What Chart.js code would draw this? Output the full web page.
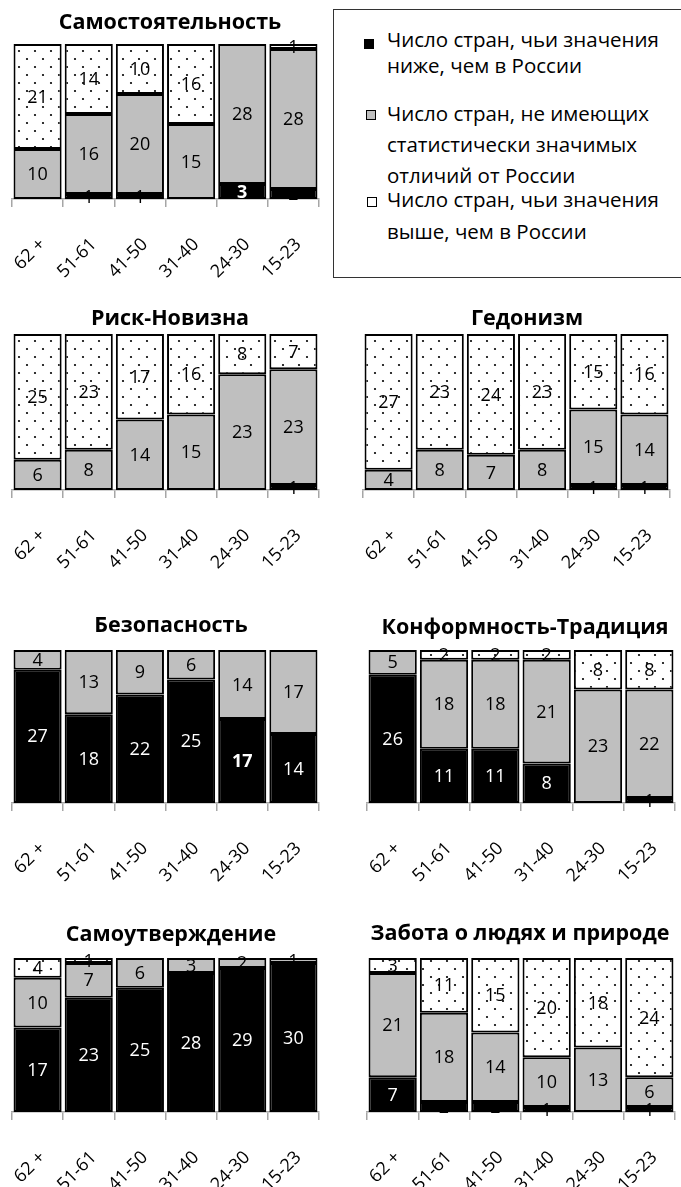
<!DOCTYPE html>
<html lang="ru">
<head>
<meta charset="utf-8">
<title>Число стран по возрастным группам</title>
<script src="https://cdn.jsdelivr.net/npm/chart.js@4.4.0/dist/chart.umd.min.js"></script>
<style>
  html, body { margin: 0; padding: 0; background: #fff; }
  body { width: 681px; height: 1187px; position: relative; overflow: hidden; font-family: 'Open Sans', sans-serif; }
  canvas { position: absolute; }
  #legend { position: absolute; left: 333px; top: 9px; width: 370px; height: 269px;
            border: 1.5px solid #333; box-sizing: border-box; }
  .lg-line { position: absolute; left: 387px; font-size: 20.5px; line-height: normal; white-space: nowrap; color: #000; }
  .lg-mark { position: absolute; box-sizing: border-box; }
</style>
</head>
<body>

<div id="legend"></div>
<div class="lg-mark" style="left:364px;top:39px;width:10px;height:10px;background:#000;"></div>
<div class="lg-line" style="top:25px;">Число стран, чьи значения</div>
<div class="lg-line" style="top:51px;">ниже, чем в России</div>
<div class="lg-mark" style="left:366px;top:110px;width:10px;height:10px;background:#bfbfbf;border:1px solid #000;"></div>
<div class="lg-line" style="top:99px;">Число стран, не имеющих</div>
<div class="lg-line" style="top:130px;">статистически значимых</div>
<div class="lg-line" style="top:161px;">отличий от России</div>
<div class="lg-mark" style="left:367px;top:197px;width:10px;height:10px;background:#fff;border:1px solid #000;"></div>
<div class="lg-line" style="top:185px;">Число стран, чьи значения</div>
<div class="lg-line" style="top:217px;">выше, чем в России</div>

<canvas id="p1"></canvas>
<canvas id="p2"></canvas>
<canvas id="p3"></canvas>
<canvas id="p4"></canvas>
<canvas id="p5"></canvas>
<canvas id="p6"></canvas>
<canvas id="p7"></canvas>

<script>
// age groups, oldest first
const ageGroups = ['62 +', '51-61', '41-50', '31-40', '24-30', '15-23'];
const seriesNames = ['Число стран, чьи значения ниже, чем в России',
                     'Число стран, не имеющих статистически значимых отличий от России',
                     'Число стран, чьи значения выше, чем в России'];
const countryTotal = 31;

// Самостоятельность
const selfDirLower  = [0, 1, 1, 0, 3, 2];
const selfDirSame   = [10, 16, 20, 15, 28, 28];
const selfDirHigher = [21, 14, 10, 16, 0, 1];

// Риск-Новизна
const riskLower  = [0, 0, 0, 0, 0, 1];
const riskSame   = [6, 8, 14, 15, 23, 23];
const riskHigher = [25, 23, 17, 16, 8, 7];

// Гедонизм
const hedonLower  = [0, 0, 0, 0, 1, 1];
const hedonSame   = [4, 8, 7, 8, 15, 14];
const hedonHigher = [27, 23, 24, 23, 15, 16];

// Безопасность
const securLower  = [27, 18, 22, 25, 17, 14];
const securSame   = [4, 13, 9, 6, 14, 17];
const securHigher = [0, 0, 0, 0, 0, 0];

// Конформность-Традиция
const conformLower  = [26, 11, 11, 8, 0, 1];
const conformSame   = [5, 18, 18, 21, 23, 22];
const conformHigher = [0, 2, 2, 2, 8, 8];

// Самоутверждение
const powerLower  = [17, 23, 25, 28, 29, 30];
const powerSame   = [10, 7, 6, 3, 2, 1];
const powerHigher = [4, 1, 0, 0, 0, 0];

// Забота о людях и природе
const careLower  = [7, 2, 2, 1, 0, 1];
const careSame   = [21, 18, 14, 10, 13, 6];
const careHigher = [3, 11, 15, 20, 18, 24];

const GREY = '#bfbfbf';
const FONT = "'Open Sans', sans-serif";

// dotted fill for the "higher" series
function dotPattern() {
    const c = document.createElement('canvas');
    c.width = 16; c.height = 16;
    const g = c.getContext('2d');
    g.fillStyle = '#fff';
    g.fillRect(0, 0, 16, 16);
    g.fillStyle = '#000';
    g.beginPath(); g.arc(3, 3, 1.1, 0, Math.PI * 2); g.fill();
    g.beginPath(); g.arc(11, 11, 1.1, 0, Math.PI * 2); g.fill();
    return g.createPattern(c, 'repeat');
}

const panelTitle = {
    id: 'panelTitle',
    afterDraw(chart, args, opts) {
        const ctx = chart.ctx;
        ctx.save();
        ctx.font = 'bold 21.5px ' + FONT;
        ctx.fillStyle = '#000';
        ctx.textAlign = 'center';
        ctx.textBaseline = 'middle';
        ctx.fillText(opts.text, opts.x, opts.y);
        ctx.restore();
    }
};

const segmentLabels = {
    id: 'segmentLabels',
    afterDatasetsDraw(chart, args, opts) {
        const ctx = chart.ctx;
        ctx.save();
        ctx.textAlign = 'center';
        ctx.textBaseline = 'middle';
        chart.data.datasets.forEach((ds, di) => {
            chart.getDatasetMeta(di).data.forEach((bar, i) => {
                const v = ds.data[i];
                if (!v) return;
                const bold = (opts.bold || []).some(b => b[0] === di && b[1] === i);
                ctx.font = (bold ? 'bold ' : '') + '18px ' + FONT;
                ctx.fillStyle = (di === 0 && v >= 3) ? '#fff' : '#000';
                ctx.fillText(String(v), bar.x, (bar.y + bar.base) / 2 + 1);
            });
        });
        ctx.restore();
    }
};

function makePanel(p) {
    const canvas = document.getElementById(p.id);
    const [bx, by, bw, bh] = p.box;
    const [al, at, ar, ab] = p.area;
    const axisH = 84;   // tall enough to hold the rotated labels (they are clipped to the axis box)
    canvas.width = bw; canvas.height = bh;
    canvas.style.left = bx + 'px'; canvas.style.top = by + 'px';
    canvas.style.width = bw + 'px'; canvas.style.height = bh + 'px';

    const fills = ['#000', GREY, dotPattern()];
    const values = [p.lower, p.same, p.higher];

    return new Chart(canvas.getContext('2d'), {
        type: 'bar',
        data: {
            labels: ageGroups,
            datasets: values.map((d, k) => ({
                label: seriesNames[k],
                data: d,
                backgroundColor: fills[k],
                borderColor: '#000',
                borderWidth: 2,
                borderSkipped: false,
                barPercentage: 0.94,
                categoryPercentage: 1.0
            }))
        },
        options: {
            responsive: false,
            animation: false,
            layout: {
                padding: { left: al - bx, right: bx + bw - ar, top: at - by, bottom: by + bh - ab - axisH }
            },
            scales: {
                x: {
                    stacked: true,
                    afterFit(scale) {
                        scale.height = axisH;
                        // keep the plot area where the layout padding puts it
                        scale.paddingLeft = 0;
                        scale.paddingRight = 0;
                    },
                    border: { display: true, color: '#a6a6a6', width: 1.5 },
                    grid: { offset: true, drawOnChartArea: false, drawTicks: true, tickLength: 8, color: '#a6a6a6', lineWidth: 1.5 },
                    ticks: { color: '#000', font: { family: FONT, size: 18 }, minRotation: 45, maxRotation: 45,
                             padding: 27, labelOffset: 5 }
                },
                y: { stacked: true, display: false, min: 0, max: countryTotal }
            },
            plugins: {
                legend: { display: false },
                tooltip: { enabled: false },
                panelTitle: { text: p.name, x: p.title[0] - bx, y: p.title[1] - by },
                segmentLabels: { bold: p.bold || [] }
            }
        },
        plugins: [panelTitle, segmentLabels]
    });
}

const panels = [
    { id: 'p1', name: 'Самостоятельность', box: [0, 0, 340, 290], area: [12, 44, 319, 199], title: [170, 23],
      lower: selfDirLower, same: selfDirSame, higher: selfDirHigher, bold: [[0, 4]] },
    { id: 'p2', name: 'Риск-Новизна', box: [0, 290, 340, 300], area: [12, 334, 319, 490], title: [170, 319],
      lower: riskLower, same: riskSame, higher: riskHigher },
    { id: 'p3', name: 'Гедонизм', box: [340, 290, 341, 300], area: [363, 334, 670, 490], title: [527, 319],
      lower: hedonLower, same: hedonSame, higher: hedonHigher },
    { id: 'p4', name: 'Безопасность', box: [0, 580, 340, 310], area: [12, 650, 319, 803], title: [171, 626],
      lower: securLower, same: securSame, higher: securHigher, bold: [[0, 4]] },
    { id: 'p5', name: 'Конформность-Традиция', box: [340, 580, 341, 310], area: [367, 650, 675, 803], title: [525, 628],
      lower: conformLower, same: conformSame, higher: conformHigher },
    { id: 'p6', name: 'Самоутверждение', box: [0, 870, 340, 330], area: [12, 958, 319, 1112], title: [171, 935],
      lower: powerLower, same: powerSame, higher: powerHigher },
    { id: 'p7', name: 'Забота о людях и природе', box: [340, 870, 341, 330], area: [367, 958, 675, 1112], title: [520, 934],
      lower: careLower, same: careSame, higher: careHigher }
];

panels.forEach(makePanel);
</script>
</body>
</html>
